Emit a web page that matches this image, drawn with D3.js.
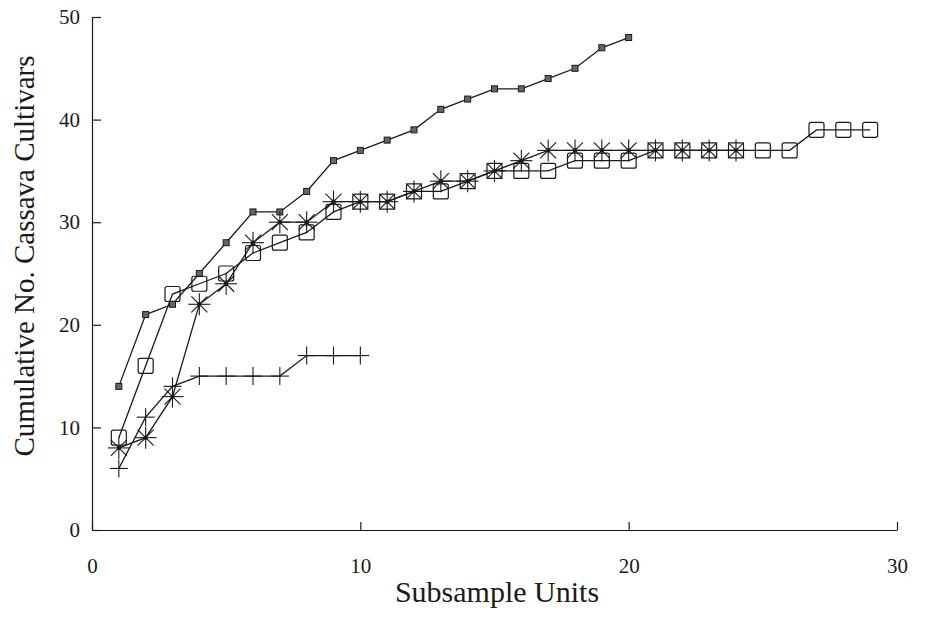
<!DOCTYPE html>
<html>
<head>
<meta charset="utf-8">
<script src="https://cdn.jsdelivr.net/npm/d3@7"></script>
<style>
  body { margin: 0; background: #fff; }
  svg { display: block; }
</style>
</head>
<body>
<div id="chart"></div>
<script>
// cumulative number of cultivars per subsample unit, four sites
const unitsA = d3.range(1, 21);
const valuesA = [14, 21, 22, 25, 28, 31, 31, 33, 36, 37, 38, 39, 41, 42, 43, 43, 44, 45, 47, 48];

const unitsB = d3.range(1, 30);
const valuesB = [9, 16, 23, 24, 25, 27, 28, 29, 31, 32, 32, 33, 33, 34, 35, 35, 35, 36, 36, 36,
                 37, 37, 37, 37, 37, 37, 39, 39, 39];

const unitsC = d3.range(1, 25);
const valuesC = [8, 9, 13, 22, 24, 28, 30, 30, 32, 32, 32, 33, 34, 34, 35, 36, 37, 37, 37, 37,
                 37, 37, 37, 37];

const unitsD = d3.range(1, 11);
const valuesD = [6, 11, 14, 15, 15, 15, 15, 17, 17, 17];

const xTicks = [0, 10, 20, 30];
const yTicks = [0, 10, 20, 30, 40, 50];

const width = 925, height = 631;
const ink = "#1a1a1a";

const svg = d3.select("#chart").append("svg")
    .attr("width", width)
    .attr("height", height)
    .style("background", "#fff");

const x = d3.scaleLinear().domain([0, 30]).range([92, 897]);
const y = d3.scaleLinear().domain([0, 50]).range([530, 17]);

// axes, ticks pointing inward
const yAxis = svg.append("g")
    .attr("transform", `translate(${x(0)},0)`)
    .call(d3.axisLeft(y).tickValues(yTicks).tickSizeInner(-9).tickSizeOuter(0).tickPadding(12));

const xAxis = svg.append("g")
    .attr("transform", `translate(0,${y(0)})`)
    .call(d3.axisBottom(x).tickValues(xTicks).tickSizeInner(-8).tickSizeOuter(0).tickPadding(28));

[yAxis, xAxis].forEach(g => {
    g.selectAll("path, line").attr("stroke", ink).attr("stroke-width", 1.2);
    g.selectAll("text")
        .attr("fill", ink)
        .style("font-family", "'Liberation Serif', 'DejaVu Serif', serif")
        .style("font-size", "21px");
});

// axis titles
svg.append("text")
    .attr("x", 497)
    .attr("y", 602)
    .attr("text-anchor", "middle")
    .style("font-family", "'Liberation Serif', serif")
    .style("font-size", "30px")
    .attr("fill", ink)
    .text("Subsample Units");

svg.append("text")
    .attr("transform", "translate(34,256) rotate(-90)")
    .attr("text-anchor", "middle")
    .style("font-family", "'Liberation Serif', serif")
    .style("font-size", "29px")
    .attr("fill", ink)
    .text("Cumulative No. Cassava Cultivars");

const line = d3.line().x(d => x(d[0])).y(d => y(d[1]));

function series(units, values) {
    return units.map((u, i) => [u, values[i]]);
}

const dataA = series(unitsA, valuesA);
const dataB = series(unitsB, valuesB);
const dataC = series(unitsC, valuesC);
const dataD = series(unitsD, valuesD);

[dataA, dataB, dataC, dataD].forEach(d => {
    svg.append("path")
        .datum(d)
        .attr("d", line)
        .attr("fill", "none")
        .attr("stroke", ink)
        .attr("stroke-width", 1.3);
});

// small filled squares
svg.append("g").selectAll("rect")
    .data(dataA)
    .enter().append("rect")
    .attr("x", d => x(d[0]) - 3)
    .attr("y", d => y(d[1]) - 3)
    .attr("width", 6)
    .attr("height", 6)
    .attr("fill", "#666")
    .attr("stroke", ink)
    .attr("stroke-width", 1);

// open squares
svg.append("g").selectAll("rect")
    .data(dataB)
    .enter().append("rect")
    .attr("x", d => x(d[0]) - 7.5)
    .attr("y", d => y(d[1]) - 7.5)
    .attr("width", 15)
    .attr("height", 15)
    .attr("rx", 2)
    .attr("fill", "none")
    .attr("stroke", ink)
    .attr("stroke-width", 1.2);

// asterisks
const star = svg.append("g").selectAll("g")
    .data(dataC)
    .enter().append("g")
    .attr("transform", d => `translate(${x(d[0])},${y(d[1])})`);
const r = 11, rd = 8;
[[-r, 0, r, 0], [0, -r, 0, r], [-rd, -rd, rd, rd], [-rd, rd, rd, -rd]].forEach(s => {
    star.append("line")
        .attr("x1", s[0]).attr("y1", s[1]).attr("x2", s[2]).attr("y2", s[3])
        .attr("stroke", ink)
        .attr("stroke-width", 1.1);
});
star.append("circle").attr("r", 2.2).attr("fill", ink);

// plus signs
const plus = svg.append("g").selectAll("g")
    .data(dataD)
    .enter().append("g")
    .attr("transform", d => `translate(${x(d[0])},${y(d[1])})`);
plus.append("line").attr("x1", -9).attr("x2", 9).attr("stroke", ink).attr("stroke-width", 1.1);
plus.append("line").attr("y1", -9).attr("y2", 9).attr("stroke", ink).attr("stroke-width", 1.1);
</script>
</body>
</html>
